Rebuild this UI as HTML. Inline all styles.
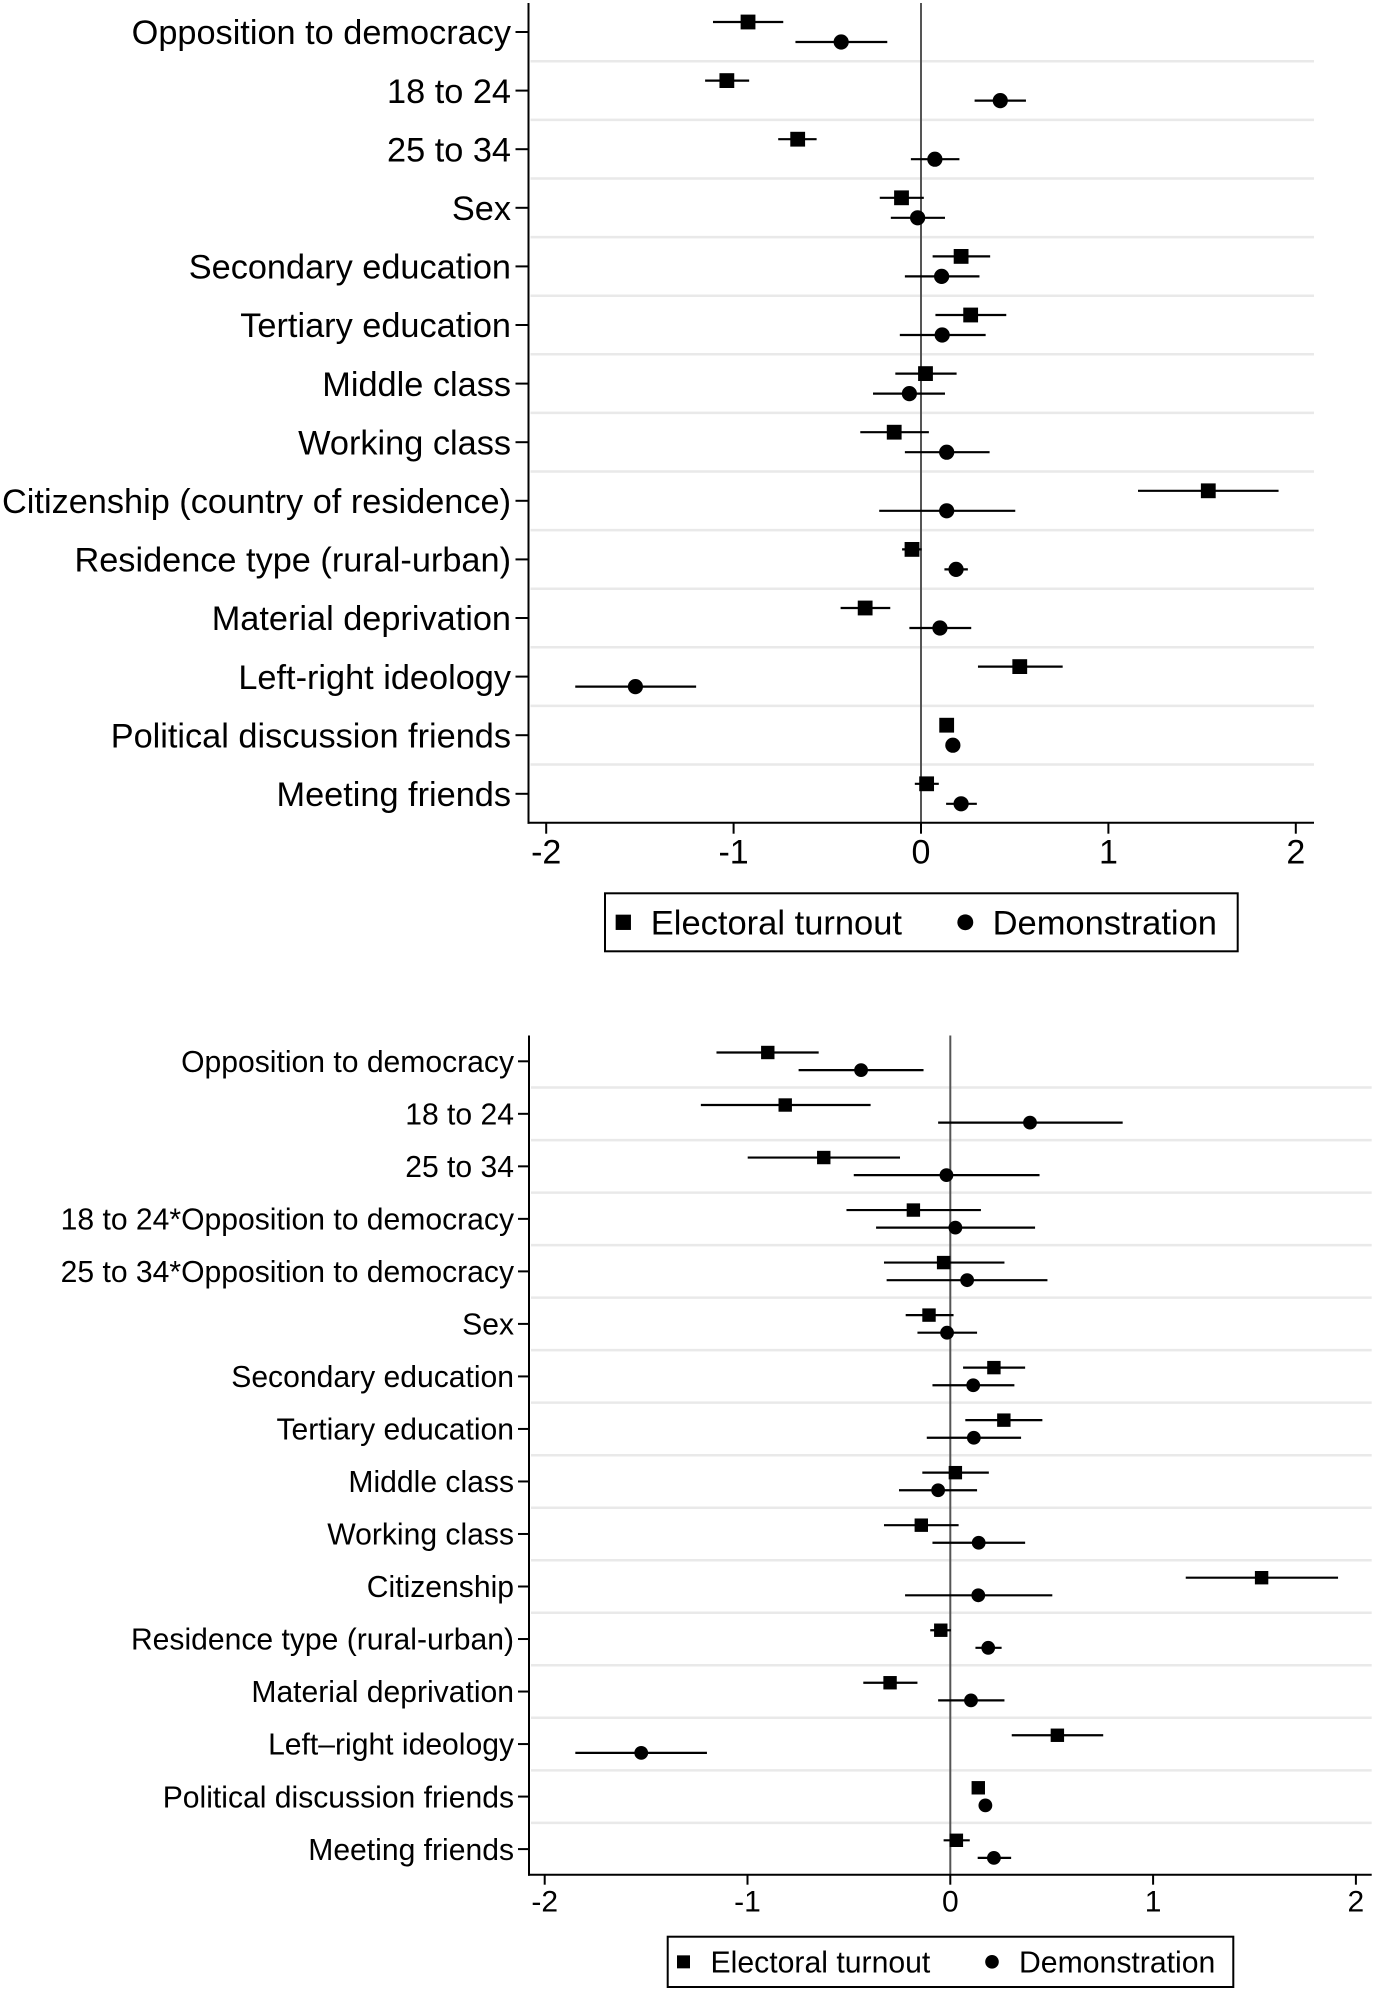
<!DOCTYPE html>
<html lang="en">
<head>
<meta charset="utf-8">
<title>Coefficient plots: Electoral turnout and Demonstration</title>
<style>
html,body{margin:0;padding:0;background:#fff;}
svg{display:block;font-family:"Liberation Sans",Arial,sans-serif;}
</style>
</head>
<body>
<svg id="figure" xmlns="http://www.w3.org/2000/svg" width="1375" height="1991" viewBox="0 0 1375 1991">
<rect x="0" y="0" width="1375" height="1991" fill="#ffffff"/>
</svg>
<script>
// ---- shared tick labels ----
const xTickValues = [-2, -1, 0, 1, 2];

// ---- top panel data ----
const topCategories = ["Opposition to democracy","18 to 24","25 to 34","Sex","Secondary education","Tertiary education","Middle class","Working class","Citizenship (country of residence)","Residence type (rural-urban)","Material deprivation","Left-right ideology","Political discussion friends","Meeting friends"];
const topTurnout   = [-0.923,-1.036,-0.658,-0.104,0.214,0.265,0.024,-0.143,1.533,-0.048,-0.298,0.527,0.137,0.030];
const topTurnoutLo = [-1.110,-1.152,-0.762,-0.220,0.062,0.077,-0.137,-0.324,1.158,-0.101,-0.429,0.304,0.120,-0.033];
const topTurnoutHi = [-0.735,-0.917,-0.557,0.015,0.369,0.455,0.190,0.042,1.908,0.003,-0.164,0.756,0.155,0.095];
const topDemo   = [-0.426,0.423,0.074,-0.018,0.110,0.113,-0.062,0.137,0.137,0.187,0.101,-1.524,0.170,0.214];
const topDemoLo = [-0.670,0.286,-0.054,-0.161,-0.086,-0.113,-0.256,-0.086,-0.223,0.125,-0.062,-1.845,0.150,0.134];
const topDemoHi = [-0.180,0.560,0.205,0.128,0.312,0.345,0.128,0.366,0.503,0.250,0.268,-1.200,0.190,0.298];

// ---- bottom panel data ----
const bottomCategories = ["Opposition to democracy","18 to 24","25 to 34","18 to 24*Opposition to democracy","25 to 34*Opposition to democracy","Sex","Secondary education","Tertiary education","Middle class","Working class","Citizenship","Residence type (rural-urban)","Material deprivation","Left\u2013right ideology","Political discussion friends","Meeting friends"];
const bottomTurnout   = [-0.900,-0.814,-0.624,-0.182,-0.033,-0.105,0.215,0.264,0.025,-0.143,1.535,-0.047,-0.297,0.528,0.138,0.030];
const bottomTurnoutLo = [-1.153,-1.230,-0.999,-0.512,-0.327,-0.220,0.063,0.074,-0.138,-0.327,1.161,-0.099,-0.429,0.303,0.125,-0.033];
const bottomTurnoutHi = [-0.649,-0.393,-0.248,0.151,0.267,0.016,0.369,0.454,0.190,0.041,1.912,0.003,-0.162,0.754,0.151,0.096];
const bottomDemo   = [-0.440,0.393,-0.019,0.025,0.083,-0.016,0.113,0.116,-0.060,0.140,0.138,0.187,0.102,-1.524,0.173,0.215];
const bottomDemoLo = [-0.748,-0.060,-0.476,-0.366,-0.314,-0.162,-0.088,-0.116,-0.253,-0.088,-0.223,0.124,-0.060,-1.849,0.160,0.135];
const bottomDemoHi = [-0.132,0.850,0.440,0.418,0.479,0.132,0.316,0.349,0.132,0.369,0.503,0.253,0.267,-1.200,0.186,0.300];

const SVG_NS = "http://www.w3.org/2000/svg";
const root = document.getElementById("figure");

function shape(parent, tag, attrs, text) {
  const el = document.createElementNS(SVG_NS, tag);
  for (const k in attrs) el.setAttribute(k, attrs[k]);
  if (text !== undefined) el.textContent = text;
  parent.appendChild(el);
  return el;
}

function slug(s) {
  return s.toLowerCase().replace(/[^a-z0-9]+/g, "-").replace(/^-|-$/g, "");
}

function drawPanel(p, d) {
  const sx = v => p.x0 + v * p.unit;
  const sy = i => p.yFirst + i * p.yStep;

  const g = shape(root, "g", {});
  
  

  // gridlines between rows
  for (let i = 0; i < d.categories.length - 1; i++) {
    const gy = (sy(i) + sy(i + 1)) / 2;
    const grid = shape(g, "line", {x1: p.left + 2, x2: p.right, y1: gy, y2: gy, stroke: "#e9e9e9", "stroke-width": 2.5});
    
    
  }

  // zero reference line
  const zero = shape(g, "line", {x1: sx(0), x2: sx(0), y1: p.top, y2: p.axisY, stroke: "#555555", "stroke-width": 2});
  
  

  // series
  d.categories.forEach((c, i) => {
    const key = slug(c);
    const y1 = sy(i) - p.offset;
    const y2 = sy(i) + p.offset;

    const ci1 = shape(g, "line", {x1: sx(d.turnoutLo[i]), x2: sx(d.turnoutHi[i]), y1: y1, y2: y1, stroke: "#000", "stroke-width": 2.2});
    
    

    const sq = shape(g, "rect", {x: sx(d.turnout[i]) - p.marker / 2, y: y1 - p.marker / 2, width: p.marker, height: p.marker, fill: "#000"});
    
    

    const ci2 = shape(g, "line", {x1: sx(d.demoLo[i]), x2: sx(d.demoHi[i]), y1: y2, y2: y2, stroke: "#000", "stroke-width": 2.2});
    
    

    const dot = shape(g, "circle", {cx: sx(d.demo[i]), cy: y2, r: p.marker / 2 + 0.2, fill: "#000"});
    
    

    const tick = shape(g, "line", {x1: p.left - p.tickLen, x2: p.left, y1: sy(i), y2: sy(i), stroke: "#000", "stroke-width": 2});
    
    

    const lab = shape(g, "text", {x: p.labelRight, y: sy(i) + p.labelSize * 0.355, "text-anchor": "end", "font-size": p.labelSize, fill: "#000"}, c);
    
    
  });

  // axes
  const yAxis = shape(g, "line", {x1: p.left, x2: p.left, y1: p.top, y2: p.axisY + 1, stroke: "#000", "stroke-width": 2});
  
  

  const xAxis = shape(g, "line", {x1: p.left - 1, x2: p.right, y1: p.axisY, y2: p.axisY, stroke: "#000", "stroke-width": 2});
  
  

  xTickValues.forEach(v => {
    const t = shape(g, "line", {x1: sx(v), x2: sx(v), y1: p.axisY, y2: p.axisY + p.xTickLen, stroke: "#000", "stroke-width": 2});
    
    

    const lab = shape(g, "text", {x: sx(v), y: p.xLabelBase, "text-anchor": "middle", "font-size": p.xLabelSize, fill: "#000"}, String(v));
    
    
  });

  // legend
  const L = p.legend;
  const lg = shape(g, "g", {});
  
  

  const box = shape(lg, "rect", {x: L.x, y: L.y, width: L.w, height: L.h, fill: "#fff", stroke: "#000", "stroke-width": 2});
  
  

  const ky = L.y + L.h / 2;
  const ks = shape(lg, "rect", {x: L.sqX - L.m / 2, y: ky - L.m / 2, width: L.m, height: L.m, fill: "#000"});
  
  

  const kt1 = shape(lg, "text", {x: L.t1X, y: ky + L.size * 0.355, "font-size": L.size, fill: "#000"}, "Electoral turnout");
  
  

  const kc = shape(lg, "circle", {cx: L.cX, cy: ky, r: L.m / 2 + 0.3, fill: "#000"});
  
  

  const kt2 = shape(lg, "text", {x: L.t2X, y: ky + L.size * 0.355, "font-size": L.size, fill: "#000"}, "Demonstration");
  
  
}

drawPanel({
  name: "top-coefficient-panel",
  x0: 921, unit: 187.4, left: 528.5, right: 1314, top: 3, axisY: 822.7,
  yFirst: 32, yStep: 58.6, offset: 10, marker: 14.8,
  tickLen: 13, xTickLen: 11, labelRight: 511, labelSize: 34.3,
  xLabelBase: 863.5, xLabelSize: 34,
  legend: {x: 605, y: 893.3, w: 632.7, h: 58, sqX: 623.3, cX: 965.3, t1X: 650.8, t2X: 992.6, m: 15.3, size: 34.5}
}, {
  categories: topCategories,
  turnout: topTurnout, turnoutLo: topTurnoutLo, turnoutHi: topTurnoutHi,
  demo: topDemo, demoLo: topDemoLo, demoHi: topDemoHi
});

drawPanel({
  name: "bottom-coefficient-panel",
  x0: 950.3, unit: 202.8, left: 529, right: 1371.7, top: 1035.5, axisY: 1874.7,
  yFirst: 1061.3, yStep: 52.52, offset: 8.8, marker: 13.4,
  tickLen: 11, xTickLen: 10, labelRight: 514, labelSize: 30.1,
  xLabelBase: 1911.3, xLabelSize: 30,
  legend: {x: 667.7, y: 1936.7, w: 565.6, h: 50.3, sqX: 683.5, cX: 992, t1X: 710.5, t2X: 1019, m: 13, size: 30.2}
}, {
  categories: bottomCategories,
  turnout: bottomTurnout, turnoutLo: bottomTurnoutLo, turnoutHi: bottomTurnoutHi,
  demo: bottomDemo, demoLo: bottomDemoLo, demoHi: bottomDemoHi
});
</script>
</body>
</html>
